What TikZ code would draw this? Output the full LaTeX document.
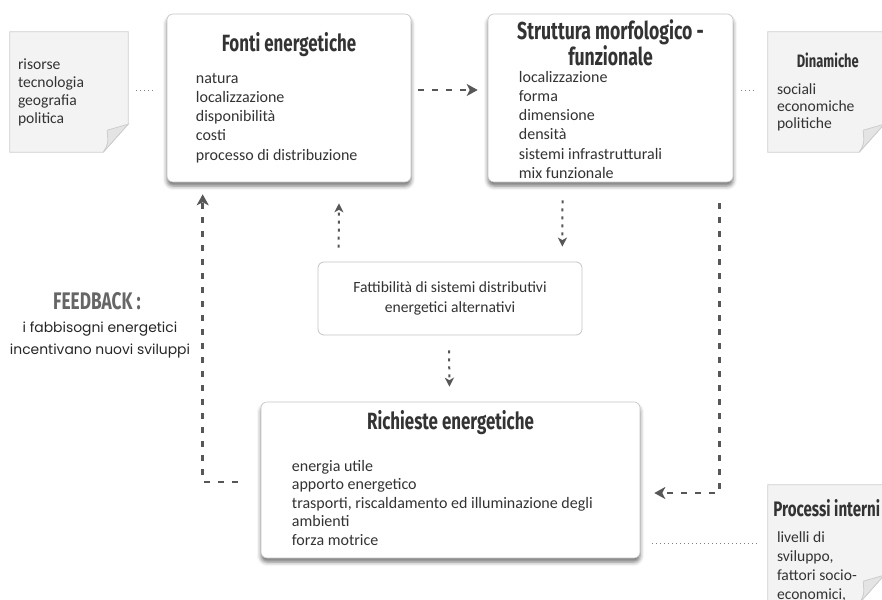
\documentclass[tikz,border=0pt]{standalone}
\usepackage{fontspec}
\setmainfont{Carlito}
\newfontfamily\titlefont{Fira Sans}[FakeStretch=0.72]
\newfontfamily\handfont{Poppins}
\usetikzlibrary{calc,positioning,arrows.meta,shadows.blur}

\definecolor{txtgray}{HTML}{333333}
\definecolor{arrgray}{HTML}{575757}
\definecolor{boxline}{HTML}{C4C4C4}
\definecolor{notefill}{HTML}{F3F3F3}
\definecolor{noteline}{HTML}{CDCDCD}
\definecolor{foldfill}{HTML}{E4E4E4}

\tikzset{
  mainbox/.style={draw=boxline,fill=white,rounded corners=6pt,line width=0.6pt,
    blur shadow={shadow xshift=0pt,shadow yshift=-4pt,shadow blur radius=4pt,shadow opacity=55}},
  plainbox/.style={draw=boxline,fill=white,rounded corners=6pt,line width=0.8pt},
  notebox/.style={draw=none,inner sep=0pt},
  notebody/.style={draw=noteline,fill=notefill,line width=0.8pt},
  notefold/.style={draw=noteline,fill=foldfill,line width=0.8pt},
  titletext/.style={font=\titlefont\bfseries\fontsize{23.5}{25}\selectfont,text=txtgray,align=center,inner sep=0pt},
  smalltitle/.style={font=\titlefont\bfseries\fontsize{18}{20}\selectfont,text=txtgray,inner sep=0pt},
  listtext/.style={font=\fontsize{16}{19.3}\selectfont,text=txtgray,align=left,inner sep=0pt,anchor=north west},
  notetext/.style={font=\fontsize{15.6}{18}\selectfont,text=txtgray,align=left,inner sep=0pt,anchor=north west},
  bigarrow/.style={draw=arrgray,line width=2.6pt,dash pattern=on 6pt off 8pt,
    -{Stealth[length=11pt,width=12pt,inset=3pt]}},
  smallarrow/.style={draw=arrgray,line width=2pt,dash pattern=on 3pt off 5pt,
    -{Stealth[length=9pt,width=9pt,inset=2.5pt]}},
  dots/.style={draw=gray,line width=0.8pt,dash pattern=on 1pt off 3pt}
}

\begin{document}
\begin{tikzpicture}[x=1pt,y=-1pt]
  \useasboundingbox (0,0) rectangle (882,599);
  \clip (0,0) rectangle (882,599);

  % Notes
  \node[notebox,minimum width=118pt,minimum height=120pt] (risNote) at (69,92) {};
  \node[notebox,minimum width=116pt,minimum height=120pt] (dinNote) at (826,92) {};
  \node[notebox,minimum width=116pt,minimum height=118pt] (proNote) at (826,544) {};
  \foreach \n in {risNote,dinNote,proNote} {
    \draw[notebody] (\n.north west) -- (\n.north east) -- ($(\n.south east)+(0,-28)$)
      -- ($(\n.south east)+(-25,0)$) -- (\n.south west) -- cycle;
    \draw[notefold] ($(\n.south east)+(-25,0)$) .. controls ($(\n.south east)+(-20,-8)$) .. ($(\n.south east)+(-21,-22)$)
      -- ($(\n.south east)+(0,-28)$) -- cycle;
  }

  % Text of the notes
  \node[notetext] (risorse) at ($(risNote.north west)+(8,27)$) {risorse\\tecnologia\\geografia\\politica};
  \node[smalltitle] (dinTitle) at ($(dinNote.north west)+(60,29)$) {Dinamiche};
  \node[notetext,font=\fontsize{15.6}{17}\selectfont] (dinamiche) at ($(dinNote.north west)+(9,52)$) {sociali\\economiche\\politiche};
  \node[smalltitle,font=\titlefont\bfseries\fontsize{21}{22}\selectfont] (proTitle) at ($(proNote.north west)+(59,23)$) {Processi interni};
  \node[notetext,font=\fontsize{15.6}{19}\selectfont] (processi) at ($(proNote.north west)+(9,47)$) {livelli di\\sviluppo,\\fattori socio-\\economici,};

  % Fonti energetiche
  \node[mainbox,minimum width=244pt,minimum height=168pt] (fonti) at (289,98) {};
  \node[titletext] (fontiTitle) at ($(fonti.north)+(0,31)$) {Fonti energetiche};
  \node[listtext] (fontiList) at ($(fonti.north west)+(29,59)$)
    {natura\\localizzazione\\disponibilità\\costi\\processo di distribuzione};

  % Struttura morfologico - funzionale
  \node[mainbox,minimum width=245pt,minimum height=168pt] (struttura) at (610.5,98) {};
  \node[titletext,font=\titlefont\bfseries\fontsize{24.5}{25}\selectfont] (strutturaTitle) at ($(struttura.north)+(0,29)$) {Struttura morfologico -\\funzionale};
  \node[listtext] (strutturaList) at ($(struttura.north west)+(31,57)$)
    {localizzazione\\forma\\dimensione\\densità\\sistemi infrastrutturali\\mix funzionale};

  % Fattibilita
  \node[plainbox,minimum width=264pt,minimum height=73pt,align=center,text=txtgray,
    font=\fontsize{15.6}{20}\selectfont] (fattibilita) at (450,298.5)
    {Fattibilità di sistemi distributivi\\energetici alternativi};

  % Richieste energetiche
  \node[mainbox,minimum width=379pt,minimum height=156pt] (richieste) at (450.5,480) {};
  \node[titletext] (richiesteTitle) at ($(richieste.north)+(0,21)$) {Richieste energetiche};
  \node[listtext,font=\fontsize{16}{18.5}\selectfont] (richiesteList) at ($(richieste.north west)+(31,58)$)
    {energia utile\\apporto energetico\\trasporti, riscaldamento ed illuminazione degli\\ambienti\\forza motrice};

  % Feedback
  \node[smalltitle,font=\titlefont\bfseries\fontsize{24}{24}\selectfont,text=black!60] (feedback) at (97,301) {FEEDBACK :};
  \node[font=\handfont\fontsize{13.9}{22.5}\selectfont,align=center,inner sep=0pt,text=black!85]
    (feedText) at (100,340) {i fabbisogni energetici\\incentivano nuovi sviluppi};

  % Dotted links to the notes
  \draw[dots] ($(risNote.east)+(8,-2)$) -- ($(fonti.west)+(-14,-8)$);
  \draw[dots] ($(struttura.east)+(8,-8)$) -- ($(dinNote.west)+(-11,-2)$);
  \draw[dots] ($(richieste.east)+(12,63)$) -- ($(proNote.west)+(-11,-1)$);

  % Arrows
  \draw[bigarrow] ($(fonti.east)+(7,-8)$) -- ($(struttura.west)+(-10,-8)$);
  \draw[bigarrow] ($(richieste.west)+(-23,2)$) -| ($(fonti.south west)+(36,12)$);
  \draw[bigarrow] ($(struttura.south east)+(-14,21)$) |- ($(richieste.east)+(14,13)$);
  \draw[smallarrow] ($(fattibilita.north west)+(21,-14)$) -- ($(fonti.south)+(50,21)$);
  \draw[smallarrow] ($(struttura.south)+(-48,18)$) -- ($(fattibilita.north east)+(-20,-15)$);
  \draw[smallarrow] ($(fattibilita.south)+(-1,15)$) -- ($(richieste.north)+(-1,-15)$);
\end{tikzpicture}
\end{document}
